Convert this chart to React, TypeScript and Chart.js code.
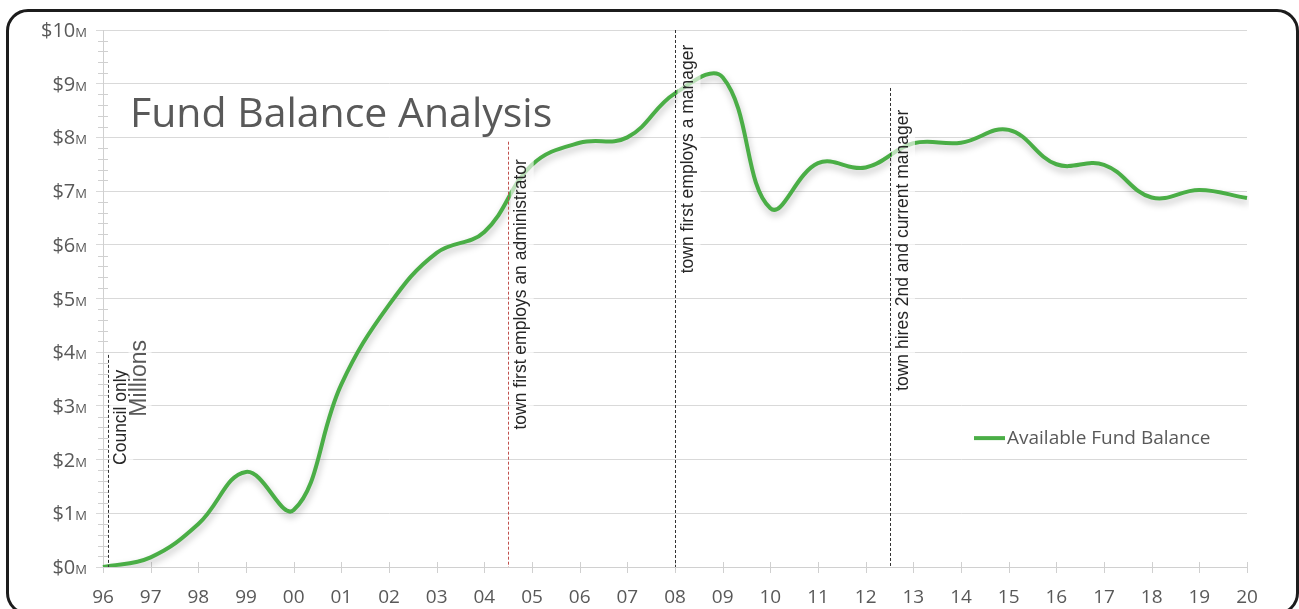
import React, { useEffect, useRef } from 'react';
import { Chart, registerables } from 'chart.js';

Chart.register(...registerables);

// Fiscal years shown along the bottom axis
const years = ['96', '97', '98', '99', '00', '01', '02', '03', '04', '05', '06', '07', '08',
  '09', '10', '11', '12', '13', '14', '15', '16', '17', '18', '19', '20'];

// Available fund balance, $ millions
const balances = [0.0, 0.18, 0.8, 1.77, 1.06, 3.4, 4.88, 5.85, 6.24, 7.49, 7.9, 8.0, 8.82,
  9.12, 6.68, 7.52, 7.44, 7.89, 7.9, 8.14, 7.5, 7.49, 6.88, 7.02, 6.87];

// Value axis ticks ($ millions)
const yTicks = [0, 1, 2, 3, 4, 5, 6, 7, 8, 9, 10];
const yTickPrefix = '$';
const yTickSuffix = 'M';

const seriesLabel = 'Available Fund Balance';
const chartTitle = 'Fund Balance Analysis';
const unitsLabel = 'Millions';

// Milestones marked with dashed vertical lines
const eventLabels = [
  'Council only',
  'town first employs an administrator',
  'town first employs a manager',
  'town hires 2nd and current manager',
];
const eventAt = [0.1, 8.5, 12, 16.5]; // position on the year axis (index)
const eventLineTop = [3.95, 7.92, 10.0, 8.92]; // $M where each dashed line stops
const eventTextStart = [1.9, 2.56, 5.47, 3.28]; // $M where each rotated caption begins
const eventColors = ['#333333', '#c0504d', '#333333', '#333333'];

const GREEN = '#4aae46';
const GREY_TEXT = '#595959';
const GRID = '#d9d9d9';

const decorations = {
  id: 'decorations',
  beforeDatasetsDraw(chart: any) {
    const { ctx, chartArea } = chart;
    const x = chart.scales.x;
    const y = chart.scales.y;
    ctx.save();
    ctx.strokeStyle = '#d0d0d0';
    ctx.lineWidth = 1;
    // minor ticks on the value axis
    for (let i = 1; i < 50; i++) {
      if (i % 5 === 0) continue;
      const py = Math.round(y.getPixelForValue(i * 0.2)) + 0.5;
      ctx.beginPath();
      ctx.moveTo(chartArea.left - 5, py);
      ctx.lineTo(chartArea.left + 5, py);
      ctx.stroke();
    }
    // tick marks crossing the year axis
    for (let i = 0; i < years.length; i++) {
      const px = Math.round(x.getPixelForValue(i)) + 0.5;
      ctx.beginPath();
      ctx.moveTo(px, chartArea.bottom - 5);
      ctx.lineTo(px, chartArea.bottom + 6);
      ctx.stroke();
    }
    ctx.restore();
  },
  beforeDatasetDraw(chart: any) {
    const { ctx } = chart;
    ctx.save();
    ctx.shadowColor = 'rgba(0,0,0,0.25)';
    ctx.shadowBlur = 7;
    ctx.shadowOffsetX = 1;
    ctx.shadowOffsetY = 4;
  },
  afterDatasetDraw(chart: any) {
    chart.ctx.restore();
  },
  afterDatasetsDraw(chart: any) {
    const { ctx, chartArea } = chart;
    const x = chart.scales.x;
    const y = chart.scales.y;
    ctx.save();

    // milestone lines
    eventAt.forEach((at, i) => {
      const px = Math.round(x.getPixelForValue(at)) + 0.5;
      ctx.beginPath();
      ctx.setLineDash([3, 2]);
      ctx.strokeStyle = eventColors[i];
      ctx.lineWidth = 1;
      ctx.moveTo(px, y.getPixelForValue(eventLineTop[i]));
      ctx.lineTo(px, chartArea.bottom);
      ctx.stroke();
    });
    ctx.setLineDash([]);

    // rotated captions with translucent boxes
    const capFont = '17.5px "Liberation Sans", Arial, sans-serif';
    const drawRotated = (text: string, cx: number, bottom: number, font: string, color: string) => {
      ctx.font = font;
      const w = ctx.measureText(text).width;
      ctx.fillStyle = 'rgba(255,255,255,0.62)';
      ctx.fillRect(cx - 11, bottom - w - 4, 23, w + 8);
      ctx.save();
      ctx.translate(cx, bottom);
      ctx.rotate(-Math.PI / 2);
      ctx.fillStyle = color;
      ctx.textAlign = 'left';
      ctx.textBaseline = 'middle';
      ctx.fillText(text, 0, 0);
      ctx.restore();
    };
    eventAt.forEach((at, i) => {
      const px = x.getPixelForValue(at);
      drawRotated(eventLabels[i], px + 13.5, y.getPixelForValue(eventTextStart[i]), capFont, '#262626');
    });
    drawRotated(unitsLabel, chartArea.left + 36.5, y.getPixelForValue(2.8),
      '23px "Liberation Sans", Arial, sans-serif', GREY_TEXT);

    // title
    ctx.fillStyle = GREY_TEXT;
    ctx.font = '41px "Open Sans", sans-serif';
    ctx.textAlign = 'left';
    ctx.textBaseline = 'alphabetic';
    ctx.fillText(chartTitle, chartArea.left + 27, y.getPixelForValue(8.2));

    // legend
    const ly = y.getPixelForValue(2.4);
    ctx.strokeStyle = GREEN;
    ctx.lineWidth = 4;
    ctx.beginPath();
    ctx.moveTo(974, ly);
    ctx.lineTo(1005, ly);
    ctx.stroke();
    ctx.font = '19px "Open Sans", sans-serif';
    ctx.textBaseline = 'middle';
    ctx.fillStyle = GREY_TEXT;
    ctx.fillText(seriesLabel, 1007, ly);

    // value axis labels with a small "M"
    ctx.textBaseline = 'alphabetic';
    ctx.textAlign = 'left';
    yTicks.forEach((v) => {
      const py = y.getPixelForValue(v) + 7;
      const main = yTickPrefix + v;
      ctx.font = '20px "Open Sans", sans-serif';
      const mw = ctx.measureText(main).width;
      ctx.font = '13px "Open Sans", sans-serif';
      const sw = ctx.measureText(yTickSuffix).width;
      const right = chartArea.left - 16;
      ctx.font = '20px "Open Sans", sans-serif';
      ctx.fillText(main, right - sw - mw, py);
      ctx.font = '13px "Open Sans", sans-serif';
      ctx.fillText(yTickSuffix, right - sw, py);
    });
    ctx.restore();
  },
};

export default function App() {
  const canvasRef = useRef<HTMLCanvasElement | null>(null);

  useEffect(() => {
    if (!canvasRef.current) return;
    const chart = new Chart(canvasRef.current, {
      type: 'line',
      data: {
        labels: years,
        datasets: [
          {
            label: seriesLabel,
            data: balances,
            borderColor: GREEN,
            backgroundColor: GREEN,
            borderWidth: 4,
            pointRadius: 0,
            tension: 0.4,
            fill: false,
          },
        ],
      },
      options: {
        animation: false,
        responsive: true,
        maintainAspectRatio: false,
        layout: { padding: { top: 30, right: 52, left: 0, bottom: 0 } },
        plugins: {
          legend: { display: false },
          title: { display: false },
          tooltip: { enabled: false },
        },
        scales: {
          x: {
            type: 'category',
            offset: false,
            grid: { display: false },
            border: { display: true, color: '#d0d0d0', width: 1 },
            ticks: {
              color: GREY_TEXT,
              font: { family: '"Open Sans", sans-serif', size: 19 },
              padding: 11,
              maxRotation: 0,
              autoSkip: false,
            },
            afterFit: (scale: any) => {
              scale.height = 42;
            },
          },
          y: {
            min: 0,
            max: 10,
            ticks: { stepSize: 1, display: false },
            grid: { color: GRID, lineWidth: 1, tickLength: 7, drawTicks: true },
            border: { display: true, color: '#d0d0d0', width: 1 },
            afterFit: (scale: any) => {
              scale.width = 103;
            },
          },
        },
      },
      plugins: [decorations],
    });
    return () => chart.destroy();
  }, []);

  return (
    <div style={{ position: 'fixed', left: 0, top: 0, width: 1299, height: 609, overflow: 'hidden', background: '#fff' }}>
      <div
        style={{
          position: 'absolute',
          left: 6,
          top: 9,
          width: 1293,
          height: 606,
          boxSizing: 'border-box',
          border: '3px solid #1c1c1c',
          borderRadius: 22,
        }}
      />
      <div style={{ position: 'absolute', left: 0, top: 0, width: 1299, height: 609 }}>
        <canvas ref={canvasRef} />
      </div>
    </div>
  );
}
